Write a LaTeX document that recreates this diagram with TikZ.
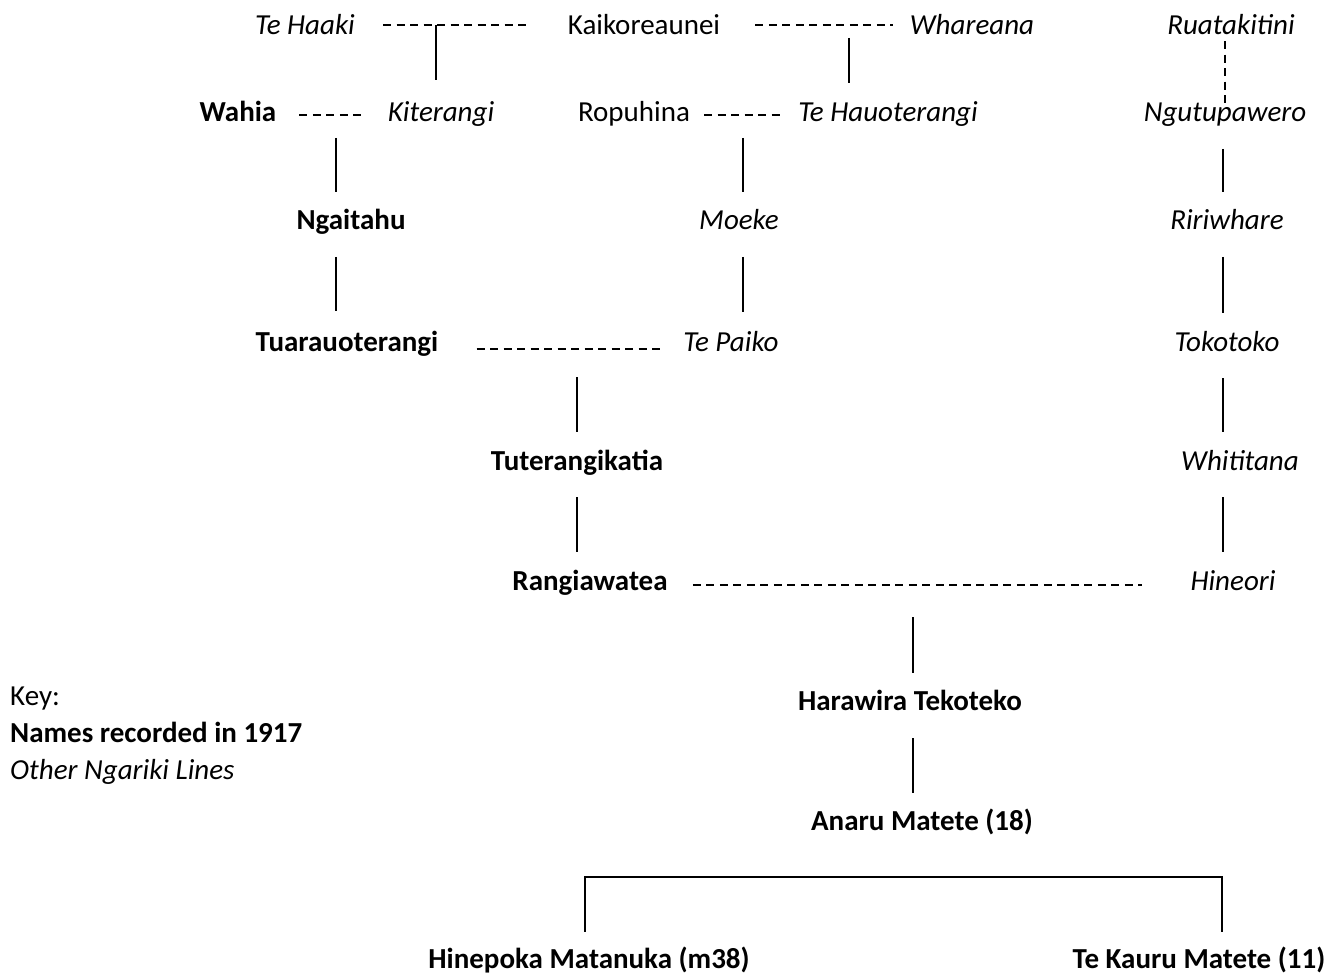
\documentclass[tikz,border=0pt]{standalone}
\usepackage{fontspec}
\setmainfont{Carlito}
\begin{document}
\begin{tikzpicture}[x=1pt,y=-1pt,
  namebase/.style={inner sep=0pt, anchor=base, text height=21pt, text depth=6pt},
  rec/.style={namebase, font=\fontsize{29}{34}\selectfont\bfseries},
  other/.style={namebase, font=\fontsize{29}{34}\selectfont\itshape},
  plain/.style={namebase, font=\fontsize{29}{34}\selectfont},
  kin/.style={line width=2pt, shorten >=17pt},
  marriage/.style={line width=1.5pt, dash pattern=on 8pt off 5.5pt},
]
\useasboundingbox[fill=white] (0,0) rectangle (1341,976);

% generation 1
\node[other] (tehaaki)  at (305,35)  {Te Haaki};
\node[plain] (kaik)     at (644,35)  {Kaikoreaunei};
\node[other] (whareana) at (972,35)  {Whareana};
\node[other] (ruatak)   at (1231,35) {Ruatakitini};
% generation 2
\node[rec]   (wahia)     at (238,122)  {Wahia};
\node[other] (kiterangi) at (441,122)  {Kiterangi};
\node[plain] (ropuhina)  at (634,122)  {Ropuhina};
\node[other] (tehauo)    at (888,122)  {Te Hauoterangi};
\node[other] (ngutu)     at (1225,122) {Ngutupawero};
% generation 3
\node[rec]   (ngaitahu)  at (351,230)  {Ngaitahu};
\node[other] (moeke)     at (739,230)  {Moeke};
\node[other] (ririwhare) at (1227,230) {Ririwhare};
% generation 4
\node[rec]   (tuara)    at (347,351)  {Tuarauoterangi};
\node[other] (tepaiko)  at (731,351)  {Te Paiko};
\node[other] (tokotoko) at (1227,351) {Tokotoko};
% generation 5
\node[rec]   (tuter)     at (577,470)  {Tuterangikatia};
\node[other] (whititana) at (1240,470) {Whititana};
% generation 6
\node[rec]   (rangi)   at (590,590)  {Rangiawatea};
\node[other] (hineori) at (1233,590) {Hineori};
% generations 7 to 9
\node[rec] (harawira) at (910,710)  {Harawira Tekoteko};
\node[rec] (anaru)    at (922,830)  {Anaru Matete (18)};
\node[rec] (hinepoka) at (589,968)  {Hinepoka Matanuka (m38)};
\node[rec] (tekauru)  at (1199,968) {Te Kauru Matete (11)};

% key
\node[plain, anchor=base west] (keyhead) at (10,705) {Key:};
\node[rec,   anchor=base west] (keyrec)  at (10,742) {Names recorded in 1917};
\node[other, anchor=base west] (keyoth)  at (10,779) {Other Ngariki Lines};

% unions
\draw[marriage, shorten <=28pt, shorten >=39pt] ([yshift=10pt]tehaaki.base east) -- ([yshift=10pt]kaik.base west);
\draw[marriage, shorten <=35pt, shorten >=17pt] ([yshift=10pt]kaik.base east) -- ([yshift=10pt]whareana.base west);
\draw[marriage, shorten <=23pt, shorten >=25pt] ([yshift=7pt]wahia.base east) -- ([yshift=7pt]kiterangi.base west);
\draw[marriage, shorten <=14pt, shorten >=17pt] ([yshift=7pt]ropuhina.base east) -- ([yshift=7pt]tehauo.base west);
\draw[marriage, shorten <=38pt, shorten >=22pt] ([yshift=2pt]tuara.base east) -- ([yshift=2pt]tepaiko.base west);
\draw[marriage, shorten <=25pt, shorten >=48pt] ([yshift=5pt]rangi.base east) -- ([yshift=5pt]hineori.base west);
\draw[marriage] (ruatak.south -| ngutu.base) -- ([yshift=16pt]ngutu.base);

% descent lines
\coordinate (d1)  at (436,25);
\coordinate (d2)  at (849,38);
\coordinate (d3)  at (336,138);
\coordinate (d4)  at (743,138);
\coordinate (d5)  at (1223,149);
\coordinate (d6)  at (336,257);
\coordinate (d7)  at (743,257);
\coordinate (d8)  at (1223,257);
\coordinate (d9)  at (577,377);
\coordinate (d10) at (1223,378);
\coordinate (d11) at (577,497);
\coordinate (d12) at (1223,497);
\coordinate (d13) at (913,617);
\coordinate (d14) at (913,738);
\coordinate (bl)  at (585,877);
\coordinate (br)  at (1222,877);

\draw[kin, shorten >=21pt] (d1) -- (d1 |- kiterangi.north);
\draw[kin, shorten >=18pt] (d2) -- (d2 |- tehauo.north);
\draw[kin] (d3)  -- (d3 |- ngaitahu.north);
\draw[kin] (d4)  -- (d4 |- moeke.north);
\draw[kin] (d5)  -- (d5 |- ririwhare.north);
\draw[kin, shorten >=19pt] (d6)  -- (d6 |- tuara.north);
\draw[kin, shorten >=18pt] (d7)  -- (d7 |- tepaiko.north);
\draw[kin] (d8)  -- (d8 |- tokotoko.north);
\draw[kin] (d9)  -- (d9 |- tuter.north);
\draw[kin] (d10) -- (d10 |- whititana.north);
\draw[kin] (d11) -- (d11 |- rangi.north);
\draw[kin] (d12) -- (d12 |- hineori.north);
\draw[kin, shorten >=16pt] (d13) -- (d13 |- harawira.north);
\draw[kin, shorten >=16pt] (d14) -- (d14 |- anaru.north);
\draw[line width=2pt, shorten <=15pt, shorten >=15pt]
  (bl |- hinepoka.north) -- (bl) -- (br) -- (br |- tekauru.north);
\end{tikzpicture}
\end{document}
